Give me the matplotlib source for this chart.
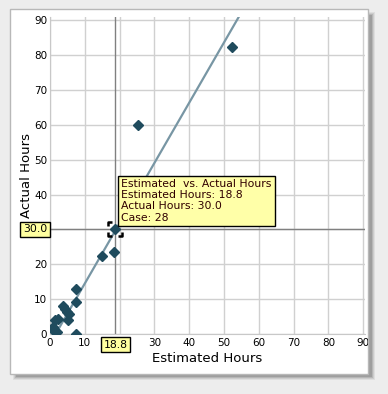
import numpy as np
import matplotlib
matplotlib.use("Agg")
import matplotlib.pyplot as plt
import matplotlib.patches as mpatches
from matplotlib.path import Path

# data
est_hours = [52.3, 25.3, 18.8, 18.5, 14.8, 7.5, 7.5, 7.5, 3.8, 4.3, 5.0, 5.5, 5.3, 1.4, 2.4, 1.0, 1.1, 1.9]
act_hours = [82.5, 60.0, 30.0, 23.5, 22.5, 12.9, 9.3, 0.0, 7.9, 7.1, 6.4, 5.7, 3.9, 4.0, 4.3, 1.9, 1.0, 0.5]
SEL = 2  # selected case (index into the arrays)
CASE_NO = 28
FIT_SLOPE = 1.73
FIT_INTERCEPT = -2.8
ticks = [0, 10, 20, 30, 40, 50, 60, 70, 80, 90]

W, H = 388, 394
fig = plt.figure(figsize=(W / 100, H / 100), dpi=100)
fig.patch.set_facecolor("#ededed")

# panel with soft shadow
def px_rect(x0, y0, x1, y1, **kw):
    return mpatches.Rectangle((x0 / W, 1 - y1 / H), (x1 - x0) / W, (y1 - y0) / H,
                              transform=fig.transFigure, zorder=-10, **kw)

for i, a in enumerate([0.10, 0.14, 0.20, 0.28]):
    fig.patches.append(px_rect(13 + i, 12 + i, 375 - i, 380 - i, facecolor="#606060", edgecolor="none", alpha=a))
panel = px_rect(10, 9, 368, 374, facecolor="white", edgecolor="#b8b8b8", linewidth=1)
fig.patches.append(panel)

ax = fig.add_axes([50 / W, 1 - 334 / H, 315 / W, 317 / H])
ax.set_facecolor("none")
ax.set_xlim(0, 90.5)
ax.set_ylim(0, 91)
ax.set_xticks(ticks)
ax.set_yticks(ticks)
ax.grid(True, color="#d0d0d0", linewidth=1)
ax.set_axisbelow(True)
for s in ["top", "right"]:
    ax.spines[s].set_visible(False)
for s in ["left", "bottom"]:
    ax.spines[s].set_color("#c8c8c8")
ax.tick_params(length=0, labelsize=7.5, colors="black")
ax.tick_params(axis="y", pad=2)
ax.tick_params(axis="x", pad=3)
ax.set_xlabel("Estimated Hours", fontsize=9.5, labelpad=3)
ax.set_ylabel("Actual Hours", fontsize=9.5, labelpad=1)

sx, sy = est_hours[SEL], act_hours[SEL]
# tick labels hidden under the crosshair value boxes
xt = ax.get_xticklabels()
yt = ax.get_yticklabels()
xt[int(np.argmin([abs(t - sx) for t in ticks]))].set_visible(False)
yt[int(np.argmin([abs(t - sy) for t in ticks]))].set_visible(False)
for lbl in xt:
    lbl.set_clip_path(panel)

# regression line
fx = np.array([-FIT_INTERCEPT / FIT_SLOPE, 60])
ax.plot(fx, FIT_SLOPE * fx + FIT_INTERCEPT, color="#7896a4", linewidth=1.6, zorder=2)

# crosshair on selected case
ax.axvline(sx, color="#808080", linewidth=1, zorder=2)
ax.axhline(sy, color="#808080", linewidth=1, zorder=2)

ax.plot(est_hours, act_hours, "D", color="#1f4b5d", markersize=5, zorder=3, clip_on=True)

# selection brackets
c = 0.5
k = 0.3
verts, codes = [], []
for dx, dy in [(-1, -1), (1, -1), (1, 1), (-1, 1)]:
    verts += [(dx * c, dy * (c - k)), (dx * c, dy * c), (dx * (c - k), dy * c)]
    codes += [Path.MOVETO, Path.LINETO, Path.LINETO]
bracket = Path(verts, codes)
ax.plot([sx], [sy], marker=bracket, markersize=10, color="black", markeredgewidth=1.8,
        fillstyle="none", linestyle="none", zorder=4)

box = dict(boxstyle="square,pad=0.25", facecolor="#ffffa0", edgecolor="black", linewidth=1)
ax.annotate(f"{sy:.1f}", xy=(0, sy), xycoords="data", xytext=(-2, 0), textcoords="offset points",
            ha="right", va="center", fontsize=7.8, bbox=box, annotation_clip=False, zorder=6)
ax.annotate(f"{sx:.1f}", xy=(sx, 0), xycoords="data", xytext=(0, -4), textcoords="offset points",
            ha="center", va="top", fontsize=7.8, bbox=box, annotation_clip=False, zorder=6)

tip = ("Estimated  vs. Actual Hours\n"
       f"Estimated Hours: {sx:.1f}\n"
       f"Actual Hours: {sy:.1f}\n"
       f"Case: {CASE_NO}")
ax.annotate(tip, xy=(sx, sy), xytext=(4, 5), textcoords="offset points", ha="left", va="bottom",
            fontsize=7.8, color="#300000", linespacing=1.15,
            bbox=dict(boxstyle="square,pad=0.3", facecolor="#ffffa8", edgecolor="black", linewidth=1),
            zorder=5)

fig.savefig("out.png", dpi=100, facecolor=fig.get_facecolor())
